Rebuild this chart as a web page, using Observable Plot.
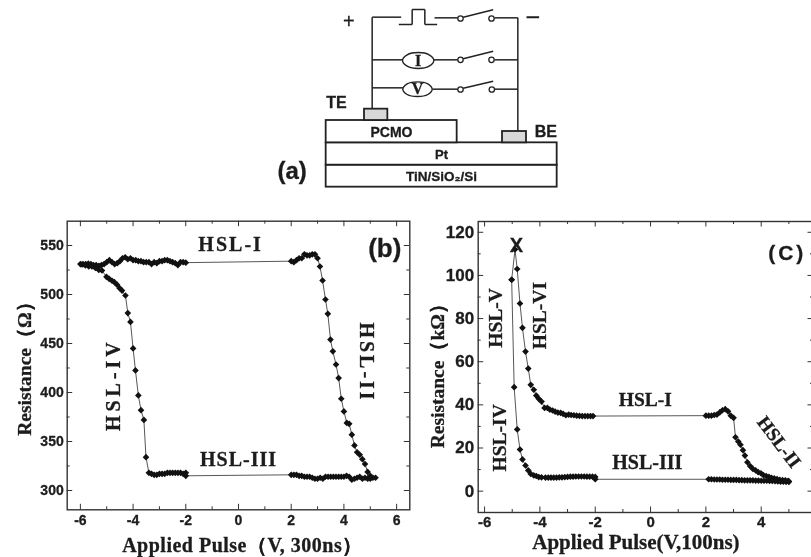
<!DOCTYPE html>
<html><head><meta charset="utf-8">
<script src="https://cdn.jsdelivr.net/npm/d3@7"></script>
<script src="https://cdn.jsdelivr.net/npm/@observablehq/plot@0.6"></script>
<style>html,body{margin:0;padding:0;background:#fff;overflow:hidden}svg{max-width:none!important}
svg text{stroke:#1c1c1c;stroke-width:.3px}
.ls0 text{letter-spacing:0}.ls05 text{letter-spacing:.5px}.ls1 text{letter-spacing:1px}.ls2 text{letter-spacing:2px}.ls3 text{letter-spacing:3px}.ls4 text{letter-spacing:4px}</style>
</head><body><script>
const INK="#1c1c1c", SANS="'Liberation Sans',Arial,sans-serif", SERIF="'Liberation Serif',serif";

// ---- panel (b)
const bV=[-5.3,-5.2,-5.1,-5.0,-4.9,-4.8,-4.7,-4.6,-4.5,-4.4,-4.3,-4.2,-4.1,-4.0,-3.9,-3.8,-3.7,-3.6,-3.5,-3.4,-3.3,-3.2,-3.1,-3.0,-2.9,-2.8,-2.7,-2.6,-2.5,-2.4,-2.3,-2.2,-2.1,-2.0,
 2.0,2.1,2.2,2.3,2.4,2.5,2.6,2.7,2.8,2.9,3.0,3.09,3.19,3.30,3.39,3.49,3.58,3.70,3.80,3.90,4.0,4.11,4.2,4.3,4.4,4.5,4.6,4.7,4.8,4.9,5.0,
 5.2,5.1,5.0,4.9,4.8,4.7,4.6,4.5,4.4,4.3,4.2,4.1,4.0,3.9,3.8,3.7,3.6,3.5,3.4,3.3,3.2,3.1,3.0,2.9,2.8,2.7,2.6,2.5,2.4,2.3,2.2,2.1,2.0,
 -2.0,-2.0,-2.1,-2.2,-2.3,-2.4,-2.5,-2.6,-2.7,-2.8,-2.9,-3.0,-3.1,-3.2,-3.3,-3.4,-3.51,-3.59,-3.70,-3.80,-3.91,-4.0,-4.1,-4.2,-4.29,-4.42,-4.51,-4.61,-4.71,-4.8,-4.91,-5.01,-5.18,-5.3,-5.43,-5.56,-5.68,-5.81,-5.94,
 -6.0,-5.9,-5.8,-5.7,-5.6,-5.5,-5.4,-5.3];
const bR=[529,530,531,533,535,533,531,532,534,537,538,536,537,535,535,534,534,533,533,533,531,533,532,534,534,535,535,534,533,532,530,533,533,532.5,
 534,533,535,537,537,541,540,540,541,541,537,528.6,514.3,494.9,480.3,454,442,428.6,414.7,393.6,380.7,369,368,357,346,339,336.5,332,327,319,315,
 313,313,312,312,313,312,314,313,312,311,314,315,314,314,314,314,314,314,314,314,312,313,312,312,313,314,314,314,315,315,316,316,316,
 315,318,317,318,318,318,318,318,318,317,317,317,316,316,317,318,334,372,382,397,422.5,445,472,481,499,504,506.5,510,512.6,514,516,518,524.5,525,527,528.6,528.6,529.6,530.6,
 531,531,531,531.5,531,530,530,529];
const bLabels=["HSL-I","HSL-III","HSL-IV","HSL-II","(b)","Resistance（Ω）","Applied Pulse（V, 300ns）"];
const bLabelV=[-0.3,0,-4.73,4.85,5.55,-8.11,0.15];
const bLabelR=[550.5,331.5,408,430.6,547,429,244];
const bLabelRot=[0,0,-90,90,0,-90,0];
const bLabelSize=[20,20,20,20,26,19.5,20];
const bLabelFont=[SERIF,SERIF,SERIF,SERIF,SANS,SERIF,SERIF];
const bLabelClass=["ls2","ls1","ls4","ls3","ls0","ls0","ls05"];

// ---- panel (c)
const cV=[-5.02,-4.9,-4.82,-4.72,-4.63,-4.52,-4.42,-4.33,-4.22,-4.13,-4.04,-3.94,-3.83,-3.73,-3.64,-3.54,-3.45,-3.35,-3.25,-3.16,-3.06,-2.96,-2.87,-2.77,-2.67,-2.57,-2.47,-2.37,-2.27,-2.17,-2.08,
 2.0,2.1,2.2,2.3,2.4,2.5,2.6,2.7,2.8,2.9,3.0,3.07,3.17,3.25,3.34,3.41,3.5,3.6,3.7,3.8,3.89,3.99,4.08,4.18,4.28,4.37,4.47,4.57,4.67,4.77,4.87,4.97,5.0,
 5.0,4.9,4.8,4.7,4.6,4.5,4.4,4.3,4.2,4.1,4.0,3.9,3.8,3.7,3.6,3.5,3.4,3.3,3.2,3.1,3.0,2.9,2.8,2.7,2.6,2.5,2.4,2.3,2.2,2.1,
 -2.0,-2.0,-2.1,-2.2,-2.3,-2.4,-2.5,-2.6,-2.7,-2.8,-2.9,-3.0,-3.1,-3.2,-3.3,-3.4,-3.5,-3.6,-3.7,-3.8,-3.94,-4.04,-4.13,-4.22,-4.33,-4.42,-4.52,-4.63,-4.72,-4.82,-4.93,-5.02];
const cR=[98,112,103,87,75.7,64.7,56.8,49.3,47,44.3,42.8,41.5,38.6,38.6,37.8,37.4,36.9,36.4,36.3,35.8,35.2,35.5,35.3,35.2,35,34.9,34.8,34.8,34.8,34.8,34.8,
 35,35,35,35.3,35.5,36.5,37.5,38,37,35,34,25,23,21.5,19,16.5,13.4,11.6,10.3,9.6,8.8,8.3,7.4,7,6.6,6.2,5.9,5.6,5.3,5.1,5,4.8,4.5,
 4.3,4.3,4.4,4.4,4.5,4.6,4.7,4.7,4.8,4.8,4.8,4.9,4.9,5,5,5,5,5.1,5.1,5.2,5.2,5.2,5.3,5.3,5.3,5.4,5.4,5.4,5.5,5.5,
 5.5,6.6,6.7,6.7,6.7,6.8,6.8,6.8,6.8,6.7,6.7,6.6,6.5,6.4,6.4,6.3,6.3,6.3,6.3,6.3,6.4,6.5,7,7.3,8,9.6,11.9,14.7,19.3,28.6,48.2,98];
const cLabels=["HSL-I","HSL-III","HSL-V","HSL-VI","HSL-IV","HSL-II","X","(C)","Resistance（kΩ）","Applied Pulse(V,100ns)"];
const cLabelV=[-0.19,-0.12,-5.6,-4.0,-5.45,4.64,-4.85,4.94,-7.71,-0.53];
const cLabelR=[42.3,13.2,80.3,81.4,24.7,22.7,114,110.3,55.6,-23.6];
const cLabelRot=[0,0,-90,-90,-90,53,0,0,-90,0];
const cLabelSize=[19.5,20,19.5,19.5,19.5,19,20,21,19.5,21];
const cLabelFont=[SERIF,SERIF,SERIF,SERIF,SERIF,SERIF,SANS,SANS,SERIF,SERIF];
const cLabelClass=["ls0","ls0","ls0","ls0","ls0","ls0","ls0","ls3","ls0","ls0"];

function panel({left,top,width,height,ml,mr,mt,mb,xd,yd,V,R,labels,lv,lr,lrot,lsize,lfont,lclass,xMaj,xMin,yMaj,yMin,xSize,ySize,xPad,yPad}){
  const lab=labels.map((t,i)=>({t,v:lv[i],r:lr[i],a:lrot[i],s:lsize[i],f:lfont[i],c:lclass[i]}));
  const pts=V.map((v,i)=>({v,r:R[i]}));
  const ux=(xd[1]-xd[0])/(width-ml-mr), uy=(yd[1]-yd[0])/(height-mt-mb);
  const tick=(vals,len)=>{
    const a={stroke:"#333",strokeWidth:1};
    return [
      Plot.ruleX(vals.x,{x:d=>d,y1:yd[0],y2:yd[0]+len*uy,...a}),
      Plot.ruleX(vals.x,{x:d=>d,y1:yd[1],y2:yd[1]-len*uy,...a}),
      Plot.ruleY(vals.y,{y:d=>d,x1:xd[0],x2:xd[0]+len*ux,...a}),
      Plot.ruleY(vals.y,{y:d=>d,x1:xd[1],x2:xd[1]-len*ux,...a})
    ];
  };
  document.body.appendChild(Plot.plot({width,height,marginLeft:ml,marginRight:mr,marginTop:mt,marginBottom:mb,
    x:{domain:xd,label:null},y:{domain:yd,label:null},
    style:{position:"absolute",left:left+"px",top:top+"px",background:"transparent",overflow:"visible",fontFamily:SANS,fontWeight:"bold",color:INK,filter:"blur(0.3px)"},
    marks:[
      Plot.frame({stroke:"#333",strokeWidth:1.4}),
      ...tick({x:xMaj,y:yMaj},5.5),
      ...tick({x:xMin,y:yMin},3),
      Plot.axisX({ticks:xMaj,tickSize:0,tickPadding:xPad,tickFormat:d=>String(d),fontSize:xSize,fontWeight:"bold",fontFamily:SANS}),
      Plot.axisY({ticks:yMaj,tickSize:0,tickPadding:yPad,tickFormat:d=>String(d),fontSize:ySize,fontWeight:"bold",fontFamily:SANS}),
      Plot.line(pts,{x:"v",y:"r",stroke:"#444",strokeWidth:0.9}),
      Plot.dot(pts,{x:"v",y:"r",symbol:"diamond2",r:3,fill:"#111",stroke:"none"}),
      ...lab.map(l=>Plot.text([l],{x:"v",y:"r",text:"t",rotate:l.a,fontSize:l.s,fontFamily:l.f,fontWeight:"bold",fill:INK,className:l.c}))
    ]}));
}

panel({left:0,top:205,width:411,height:352,ml:66.7,mr:1.7,mt:15.7,mb:47.7,xd:[-6.5,6.5],yd:[280.3,574.8],
  V:bV,R:bR,labels:bLabels,lv:bLabelV,lr:bLabelR,lrot:bLabelRot,lsize:bLabelSize,lfont:bLabelFont,lclass:bLabelClass,
  xMaj:[-6,-4,-2,0,2,4,6],xMin:[-5,-3,-1,1,3,5],yMaj:[300,350,400,450,500,550],yMin:[325,375,425,475,525],xSize:14,ySize:14,xPad:5,yPad:3.5});
panel({left:420,top:205,width:393,height:352,ml:57.7,mr:0,mt:16,mb:45,xd:[-6.23,5.89],yd:[-9.9,125],
  V:cV,R:cR,labels:cLabels,lv:cLabelV,lr:cLabelR,lrot:cLabelRot,lsize:cLabelSize,lfont:cLabelFont,lclass:cLabelClass,
  xMaj:[-6,-4,-2,0,2,4],xMin:[-5,-3,-1,1,3,5],yMaj:[0,20,40,60,80,100,120],yMin:[10,30,50,70,90,110],xSize:15,ySize:17,xPad:4,yPad:4});

// ---- panel (a): schematic, in its own unit grid
const wireX1=[305,305,492,672,742, 305,490,672, 305,486,672, 578,578,578, 385,425,425,463,463];
const wireY1=[325,50,52,52,52, 178,178,178, 262,266,266, 50,175,263, 72,72,27,27,72];
const wireX2=[305,392,562,742,742, 398,562,742, 398,562,742, 668,668,668, 425,425,463,463,500];
const wireY2=[50,50,52,52,392, 178,178,178, 262,266,266, 28,152,242, 72,27,27,72,72];
const boxX1=[167,167,167,282,696], boxY1=[494,427,360,326,393], boxX2=[860,860,560,352,768], boxY2=[560,494,427,360,427];
const boxFill=["#fff","#fff","#fff","#d8d8d8","#d8d8d8"];
const contactX=[570,663,570,663,570,664], contactY=[54,54,178,178,267,267];
const meterIX=[396,410,443,476,490,476,443,410], meterIY=[180,163,156,163,180,197,204,197];
const meterVX=[397,410,441,472,485,472,441,410], meterVY=[266,250,244,250,266,282,288,282];
const aTexts=["+","–","TE","BE","PCMO","Pt","TiN/SiO₂/Si","(a)","I","V"];
const aTextX=[235,787,198,826,363,513,513,65,443,441], aTextY=[63,47,307,393,396,463,530,513,180,266];
const aTextSize=[20,22,16,16,14,13,13.5,24,16,16];
const aTextWeight=["normal","normal","bold","bold","bold","bold","bold","bold","bold","bold"];
const aTextFont=[SANS,SANS,SANS,SANS,SANS,SANS,SANS,SANS,SERIF,SERIF];

const wires=wireX1.map((x,i)=>({x1:x,y1:wireY1[i],x2:wireX2[i],y2:wireY2[i]}));
const boxes=boxX1.map((x,i)=>({x1:x,y1:boxY1[i],x2:boxX2[i],y2:boxY2[i],f:boxFill[i]}));
const contacts=contactX.map((x,i)=>({x,y:contactY[i]}));
const meterI=meterIX.map((x,i)=>({x,y:meterIY[i]}));
const meterV=meterVX.map((x,i)=>({x,y:meterVY[i]}));
const aText=aTexts.map((t,i)=>({t,x:aTextX[i],y:aTextY[i],s:aTextSize[i],f:aTextFont[i],w:aTextWeight[i]}));
document.body.appendChild(Plot.plot({width:300,height:195,margin:0,
  x:{domain:[0,900],axis:null},y:{domain:[585,0],axis:null},
  style:{position:"absolute",left:"270px",top:"0px",background:"transparent",overflow:"visible",filter:"blur(0.3px)"},
  marks:[
    Plot.link(wires,{x1:"x1",y1:"y1",x2:"x2",y2:"y2",stroke:"#222",strokeWidth:1.5}),
    Plot.rect(boxes,{x1:"x1",y1:"y1",x2:"x2",y2:"y2",fill:"f",stroke:"#222",strokeWidth:1.8}),
    Plot.line(meterI,{x:"x",y:"y",curve:"catmull-rom-closed",stroke:"#222",strokeWidth:1.4,fill:"#fff"}),
    Plot.line(meterV,{x:"x",y:"y",curve:"catmull-rom-closed",stroke:"#222",strokeWidth:1.4,fill:"#fff"}),
    Plot.dot(contacts,{x:"x",y:"y",r:2.7,fill:"#fff",stroke:"#222",strokeWidth:1.3}),
    ...aText.map(l=>Plot.text([l],{x:"x",y:"y",text:"t",fontSize:l.s,fontFamily:l.f,fontWeight:l.w,fill:INK}))
  ]}));
</script></body></html>
